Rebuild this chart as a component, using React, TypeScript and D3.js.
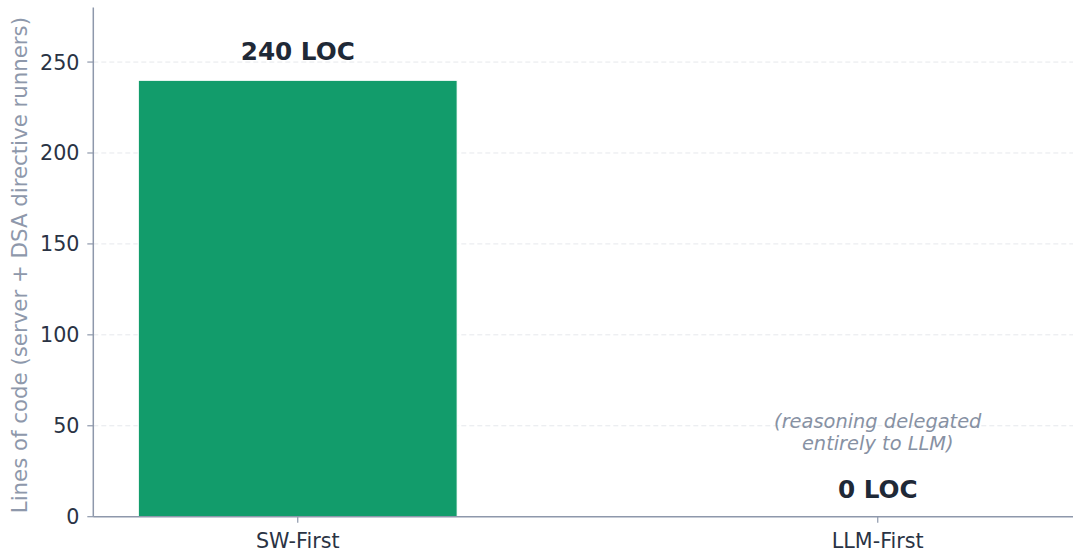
import React from "react";
import * as d3 from "d3";

const categories = ["SW-First", "LLM-First"];
const values = [240, 0];
const valueLabels = ["240 LOC", "0 LOC"];
const yTicks = [0, 50, 100, 150, 200, 250];
const yLabel = "Lines of code (server + DSA directive runners)";
const noteLines = ["(reasoning delegated", "entirely to LLM)"];

const W = 1073;
const H = 553;
const FONT = "DejaVu Sans, sans-serif";

export default function App() {
  const barWidth = 0.55;
  const x = d3.scaleLinear().domain([-0.3525, 1.3525]).range([93.3, 1082.2]);
  const y = d3.scaleLinear().domain([0, 280]).range([516.7, 7.5]);
  const spine = "#8e98ab";
  const tickText = "#2a3344";

  return (
    <div style={{ position: "fixed", left: 0, top: 0 }}>
      <svg width={W} height={H} style={{ display: "block", background: "#fff" }}>
        {/* grid */}
        {yTicks.filter((t) => t > 0).map((t) => (
          <line key={t} x1={x.range()[0]} x2={x.range()[1]} y1={y(t)} y2={y(t)}
            stroke="#e6e8ec" strokeWidth={1} strokeDasharray="5,3" />
        ))}
        {/* bars */}
        {values.map((v, i) => (
          <rect key={i} x={x(i - barWidth / 2)} y={y(v)} width={x(i + barWidth / 2) - x(i - barWidth / 2)}
            height={y(0) - y(v)} fill="#129c6b" stroke="#ffffff" strokeWidth={1.2} />
        ))}
        {/* spines */}
        <line x1={x.range()[0]} x2={x.range()[0]} y1={y.range()[1]} y2={y(0)} stroke={spine} strokeWidth={1.5} />
        <line x1={x.range()[0]} x2={x.range()[1]} y1={y(0)} y2={y(0)} stroke={spine} strokeWidth={1.5} />
        {/* y ticks */}
        {yTicks.map((t) => (
          <g key={t}>
            <line x1={x.range()[0] - 6} x2={x.range()[0]} y1={y(t)} y2={y(t)} stroke={spine} strokeWidth={1.2} />
            <text x={79.5} y={y(t)} dy="0.36em" textAnchor="end" fontFamily={FONT} fontSize={20.7} fill={tickText}>{t}</text>
          </g>
        ))}
        {/* x ticks */}
        {categories.map((c, i) => (
          <g key={c}>
            <line x1={x(i)} x2={x(i)} y1={y(0)} y2={y(0) + 6} stroke={spine} strokeWidth={1.2} />
            <text x={x(i)} y={548.3} textAnchor="middle" fontFamily={FONT} fontSize={20.7} fill={tickText}>{c}</text>
          </g>
        ))}
        {/* y label */}
        <text transform={`translate(27,${(y.range()[0] + y.range()[1]) / 2 + 3}) rotate(-90)`} textAnchor="middle"
          fontFamily={FONT} fontSize={21.3} fill="#8e98ab">{yLabel}</text>
        {/* value labels */}
        {values.map((v, i) => (
          <text key={i} x={x(i)} y={y(v) - 20 + (v === 0 ? 1 : 0)} textAnchor="middle" fontFamily={FONT}
            fontWeight="bold" fontSize={24.7} fill="#1f2937">{valueLabels[i]}</text>
        ))}
        {/* note */}
        {noteLines.map((l, k) => (
          <text key={k} x={x(1)} y={428 + k * 22} textAnchor="middle" fontFamily={FONT}
            fontStyle="italic" fontSize={19.4} fill="#8791a3">{l}</text>
        ))}
      </svg>
    </div>
  );
}
